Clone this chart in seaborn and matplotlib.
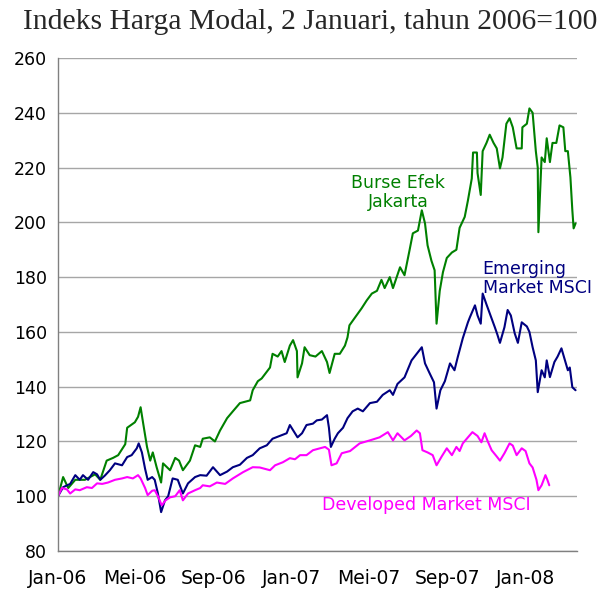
"""
plot.py - Indeks harga modal: Bursa Jakarta vs MSCI emerging / developed markets.
"""

import pandas as pd
import seaborn as sns
import matplotlib.pyplot as plt

# days counted from 1 Jan 2006 (2 Jan 2006 = 100)
jkt_days = [0, 8, 16, 27, 42, 58, 66, 76, 86, 94, 105, 108, 120, 125, 129, 133,
            139, 144, 148, 154, 161, 164, 175, 183, 189, 195, 206, 214, 222, 226,
            237, 245, 253, 264, 273, 284, 300, 304, 312, 318, 331, 335, 343, 349,
            354, 362, 367, 373, 374, 381, 385, 393, 402, 412, 420, 424, 432, 440,
            448, 452, 455, 466, 474, 482, 490, 498, 505, 510, 518, 523, 534, 541,
            549, 554, 562, 568, 573, 577, 583, 588, 591, 596, 601, 607, 615, 622,
            627, 635, 640, 646, 648, 654, 655, 660, 663, 669, 674, 680, 685, 690,
            694, 700, 705, 710, 716, 724, 725, 732, 736, 741, 746, 749, 750, 755,
            760, 763, 768, 772, 778, 783, 789, 792, 796, 800, 803, 805, 808]
jkt_vals = [100, 107, 103, 106, 106, 108, 106, 113, 114, 115, 119, 125, 127, 129, 132.5, 126.6,
            118, 113, 116, 110.6, 105, 112, 109.5, 114, 113, 109.5, 113, 118.6, 118, 121,
            121.5, 120, 124, 128.5, 131, 134, 135, 138.7, 142, 143, 147, 152, 151, 153,
            149, 155, 157, 153, 143.4, 148.5, 154.4, 151.5, 151, 153, 149, 145, 152, 152,
            155, 158, 162.4, 166, 168.6, 171.5, 174, 175, 179, 176, 180, 176, 183.6, 180.7,
            190, 196, 197, 204.4, 199.6, 191.6, 186, 182.5, 163, 175, 181.8, 187, 189, 190,
            198, 202, 208, 216, 225.5, 225.5, 218, 210, 226, 229, 232, 229, 227, 219.7,
            223.7, 236, 238, 234.7, 227, 227, 234.7, 236, 241.6, 240, 226, 220, 196.4, 223.7,
            222, 230.7, 222, 229, 229, 235.4, 234.7, 226, 226, 216.4, 204.4, 197.8, 199.6]

em_days = [0, 8, 19, 27, 34, 39, 47, 55, 61, 66, 73, 81, 89, 100, 108, 115,
           123, 126, 131, 136, 140, 147, 151, 156, 161, 167, 172, 179, 187, 195,
           203, 214, 222, 232, 242, 253, 264, 273, 284, 295, 304, 315, 326, 335,
           346, 357, 362, 370, 374, 381, 388, 398, 404, 412, 420, 423, 426, 432,
           437, 445, 452, 460, 468, 476, 487, 498, 507, 518, 523, 530, 541, 552,
           560, 568, 573, 580, 587, 591, 597, 604, 612, 619, 624, 632, 640, 643,
           651, 655, 660, 663, 669, 674, 682, 686, 690, 697, 702, 707, 713, 718,
           724, 732, 736, 741, 746, 749, 755, 760, 763, 768, 775, 780, 786, 791,
           796, 799, 803, 808]
em_vals = [100, 103.3, 104.5, 107.7, 106, 107.7, 106, 108.8, 108, 106, 107.5, 109.5, 112, 111.3, 114.3, 115,
           117.5, 119.3, 116, 110, 106, 107, 106, 101, 94.2, 98.5, 100, 106.5, 106, 101,
           104.7, 107, 107.7, 107.5, 110.6, 107.7, 109, 110.6, 111.5, 114, 115, 117.5, 118.6, 121,
           122, 123, 126, 123, 121.5, 123, 126, 126.5, 127.7, 128, 129.6, 125, 118, 121,
           123, 125, 128.5, 131, 132, 131, 134, 134.5, 137, 138.7, 137, 141, 143.4, 149.6,
           152, 154.4, 148.5, 145, 141.6, 132, 138.7, 142, 148.5, 146, 150.7, 157.7, 163.5, 165.3,
           169.7, 166, 163, 174, 170, 166.8, 161.7, 159, 156, 161.7, 168, 166, 159.5, 156,
           163.5, 162, 160, 154.4, 149.6, 138, 146, 143.4, 149.6, 143.5, 149, 151, 154, 150,
           146, 147, 139.8, 138.7]

dm_days = [0, 6, 14, 19, 27, 34, 45, 53, 61, 69, 78, 89, 100, 108, 117, 125,
           129, 136, 140, 147, 151, 156, 162, 168, 175, 183, 190, 195, 203, 214,
           222, 226, 237, 248, 261, 273, 289, 304, 315, 331, 339, 351, 362, 370,
           378, 388, 398, 409, 417, 423, 427, 435, 443, 456, 471, 487, 502, 515,
           523, 530, 541, 551, 560, 565, 569, 577, 585, 591, 599, 607, 615, 622,
           627, 632, 640, 647, 655, 661, 666, 671, 677, 685, 690, 697, 705, 710,
           716, 724, 730, 736, 741, 747, 750, 755, 761, 764, 767]
dm_vals = [100, 103, 102.5, 101, 102.5, 102.2, 103.3, 103, 104.7, 104.5, 105, 106, 106.5, 107, 106.5, 107.7,
           106.5, 103, 100.4, 102, 102.2, 100, 96.7, 98.5, 99.6, 100, 102.2, 98.5, 101, 102.2,
           103, 104, 103.6, 105, 104.5, 106.5, 108.8, 110.6, 110.5, 109.5, 111.3, 112.4, 113.9, 113.5,
           115, 115, 116.8, 117.5, 118, 117, 111.3, 112, 115.7, 116.5, 119.3, 120.4, 121.5, 123.4,
           120.4, 123, 120.4, 122, 124, 123, 116.8, 116, 115, 111.3, 114.5, 117.5, 115, 118,
           116.5, 119.3, 121.5, 123.4, 122, 119.7, 123, 120, 116.8, 114.5, 113, 115.7, 119.3, 118.5,
           115, 117.5, 116.5, 112, 110.5, 106, 102.2, 104, 107.7, 106, 104]

tick_dates = ["2006-01-01", "2006-05-01", "2006-09-01", "2007-01-01",
              "2007-05-01", "2007-09-01", "2008-01-01"]
tick_labels = ["Jan-06", "Mei-06", "Sep-06", "Jan-07", "Mei-07", "Sep-07", "Jan-08"]

GREEN = "#008000"
NAVY = "#000080"
MAGENTA = "#FF00FF"


def to_frame(days, vals, name):
    base = pd.Timestamp("2006-01-01")
    return pd.DataFrame({
        "tanggal": base + pd.to_timedelta(days, unit="D"),
        "indeks": vals,
        "seri": name,
    })


def main():
    sns.set_theme(style="white")
    plt.rcParams["font.family"] = ["DejaVu Sans"]

    df = pd.concat([
        to_frame(jkt_days, jkt_vals, "Burse Efek Jakarta"),
        to_frame(em_days, em_vals, "Emerging Market MSCI"),
        to_frame(dm_days, dm_vals, "Developed Market MSCI"),
    ], ignore_index=True)

    fig = plt.figure(figsize=(6.04, 5.89), dpi=100)
    ax = fig.add_axes([0.096, 0.0645, 0.859, 0.837])

    sns.lineplot(data=df, x="tanggal", y="indeks", hue="seri",
                 palette=[GREEN, NAVY, MAGENTA], linewidth=1.5,
                 legend=False, ax=ax, estimator=None)

    ax.set_ylim(80, 260)
    ax.set_yticks(range(80, 261, 20))
    ax.set_xlim(pd.Timestamp("2006-01-01"), pd.Timestamp("2008-03-21"))
    ax.set_xticks(pd.to_datetime(tick_dates))
    ax.set_xticklabels(tick_labels)
    ax.set_xlabel("")
    ax.set_ylabel("")

    ax.yaxis.grid(True, color="#a6a6a6", linewidth=1.0)
    ax.set_axisbelow(True)
    for side in ["top", "right"]:
        ax.spines[side].set_visible(False)
    for side in ["left", "bottom"]:
        ax.spines[side].set_color("#808080")
        ax.spines[side].set_linewidth(1.0)
    ax.tick_params(axis="both", which="major", direction="out", length=5,
                   width=1.0, color="#808080", labelsize=12.5, pad=3,
                   labelcolor="black")
    ax.tick_params(axis="x", pad=8, labelsize=13.5)

    # series labels
    ax.text(pd.Timestamp("2007-06-16"), 211, "Burse Efek\nJakarta", color=GREEN,
            fontsize=12.5, ha="center", va="center", linespacing=1.1)
    ax.text(pd.Timestamp("2007-10-26"), 179.5, "Emerging\nMarket MSCI", color=NAVY,
            fontsize=12.5, ha="left", va="center", linespacing=1.1)
    ax.text(pd.Timestamp("2007-07-30"), 96.7, "Developed Market MSCI", color=MAGENTA,
            fontsize=12.5, ha="center", va="center")

    fig.text(0.513, 0.962, "Indeks Harga Modal, 2 Januari, tahun 2006=100",
             family="Liberation Serif", fontsize=21.3, ha="center", va="center")

    fig.savefig("out.png", dpi=100)


if __name__ == "__main__":
    main()
